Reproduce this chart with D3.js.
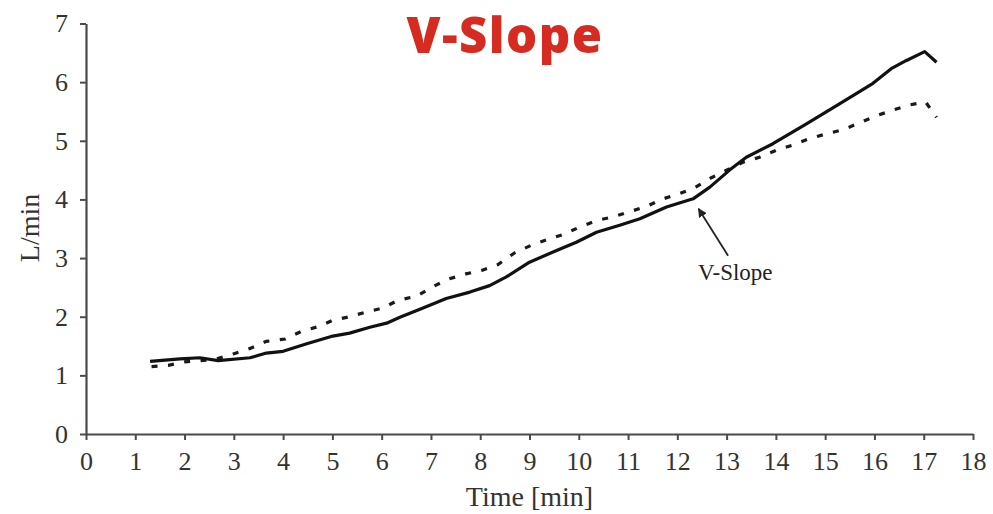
<!DOCTYPE html>
<html>
<head>
<meta charset="utf-8">
<script src="https://cdn.jsdelivr.net/npm/d3@7"></script>
<style>
  body { margin: 0; background: #fff; }
  svg { display: block; }
</style>
</head>
<body>
<script>
var width = 993, height = 514;
var margin = {top: 23.5, right: 20, bottom: 80, left: 86};

// solid line (V-Slope)
var solidT = [1.30,1.91,2.31,2.68,3.33,3.66,4.00,4.48,5.01,5.35,5.76,6.10,6.37,6.84,7.31,7.79,8.19,8.53,9.00,9.55,9.95,10.36,10.83,11.24,11.78,12.32,12.66,13.06,13.40,13.94,14.62,15.29,15.97,16.34,16.65,17.02,17.26];
var solidV = [1.24,1.28,1.30,1.25,1.30,1.38,1.41,1.54,1.67,1.72,1.82,1.89,1.99,2.15,2.31,2.42,2.53,2.68,2.93,3.13,3.27,3.44,3.56,3.67,3.87,4.01,4.21,4.50,4.72,4.95,5.29,5.63,5.98,6.23,6.37,6.52,6.34];

// dashed line
var dashT = [1.33,1.67,2.00,2.60,3.00,3.33,3.66,4.04,4.37,4.71,5.01,5.35,5.69,6.03,6.33,6.71,7.01,7.35,7.71,8.03,8.36,8.70,9.04,9.34,9.68,10.02,10.36,10.68,11.03,11.37,11.71,12.05,12.35,12.69,13.03,13.35,13.67,14.01,14.35,14.69,15.03,15.37,15.68,16.02,16.36,16.70,17.04,17.26];
var dashV = [1.15,1.17,1.23,1.27,1.37,1.46,1.58,1.62,1.75,1.83,1.94,2.00,2.08,2.15,2.28,2.35,2.50,2.64,2.73,2.79,2.89,3.09,3.22,3.31,3.40,3.53,3.64,3.70,3.79,3.88,4.01,4.10,4.20,4.37,4.51,4.64,4.72,4.84,4.93,5.04,5.12,5.19,5.30,5.42,5.52,5.61,5.66,5.40];

var xTicks = d3.range(0, 19);
var yTicks = d3.range(0, 8);

// annotation: arrow tail -> tip, label position (data units)
var arrowFrom = [13.03, 3.04];
var arrowTo = [12.43, 3.84];
var labelAt = [12.42, 2.62];
var labelText = "V-Slope";
var title = "V-Slope";

var svg = d3.select("body").append("svg")
    .attr("width", width)
    .attr("height", height);

var x = d3.scaleLinear().domain([0, 18]).range([margin.left, width - margin.right]);
var y = d3.scaleLinear().domain([0, 7]).range([height - margin.bottom, margin.top]);

var axisColor = "#4a4a4a";
var serif = "Liberation Serif, DejaVu Serif, serif";

var gx = svg.append("g")
    .attr("transform", "translate(0," + y(0) + ")")
    .call(d3.axisBottom(x).tickValues(xTicks).tickFormat(d3.format("d"))
        .tickSize(6).tickSizeOuter(0).tickPadding(12));
var gy = svg.append("g")
    .attr("transform", "translate(" + x(0) + ",0)")
    .call(d3.axisLeft(y).tickValues(yTicks).tickFormat(d3.format("d"))
        .tickSize(6).tickSizeOuter(0).tickPadding(12));

[gx, gy].forEach(function(g){
    g.attr("font-family", serif).attr("font-size", 26);
    g.select(".domain").attr("stroke", axisColor).attr("stroke-width", 2.2);
    g.selectAll(".tick line").attr("stroke", axisColor).attr("stroke-width", 2);
    g.selectAll(".tick text").attr("fill", "#333");
});

// axis titles
svg.append("text")
    .attr("x", (x(0) + x(18)) / 2)
    .attr("y", 506)
    .attr("text-anchor", "middle")
    .attr("fill", "#333")
    .attr("font-family", serif)
    .attr("font-size", 28)
    .text("Time [min]");

svg.append("text")
    .attr("transform", "translate(39,228) rotate(-90)")
    .attr("text-anchor", "middle")
    .attr("fill", "#333")
    .attr("font-family", serif)
    .attr("font-size", 28)
    .text("L/min");

// lines
var line = d3.line()
    .x(function(d){ return x(d[0]); })
    .y(function(d){ return y(d[1]); });

svg.append("path")
    .datum(dashT.map(function(t, i){ return [t, dashV[i]]; }))
    .attr("d", line)
    .attr("fill", "none")
    .attr("stroke", "#1a1a1a")
    .attr("stroke-width", 3.2)
    .attr("stroke-dasharray", "6,10.5");

svg.append("path")
    .datum(solidT.map(function(t, i){ return [t, solidV[i]]; }))
    .attr("d", line)
    .attr("fill", "none")
    .attr("stroke", "#111")
    .attr("stroke-width", 3.2)
    .attr("stroke-linejoin", "round");

// annotation arrow
svg.append("defs").append("marker")
    .attr("id", "arr")
    .attr("viewBox", "0 0 10 10")
    .attr("refX", 9).attr("refY", 5)
    .attr("markerWidth", 9).attr("markerHeight", 9)
    .attr("markerUnits", "userSpaceOnUse")
    .attr("orient", "auto")
    .append("path")
    .attr("d", "M0,0 L10,5 L0,10 z")
    .attr("fill", "#222");

svg.append("line")
    .attr("x1", x(arrowFrom[0])).attr("y1", y(arrowFrom[1]))
    .attr("x2", x(arrowTo[0])).attr("y2", y(arrowTo[1]))
    .attr("stroke", "#222")
    .attr("stroke-width", 1.8)
    .attr("marker-end", "url(#arr)");

svg.append("text")
    .attr("x", x(labelAt[0]))
    .attr("y", y(labelAt[1]))
    .attr("fill", "#222")
    .attr("font-family", serif)
    .attr("font-size", 23)
    .text(labelText);

// title
svg.append("text")
    .attr("x", 505)
    .attr("y", 53)
    .attr("text-anchor", "middle")
    .attr("fill", "#d62b20")
    .attr("font-family", "Open Sans, Noto Sans, sans-serif")
    .attr("font-weight", 800)
    .attr("font-size", 49)
    .attr("letter-spacing", 1.5)
    .text(title);
</script>
</body>
</html>
